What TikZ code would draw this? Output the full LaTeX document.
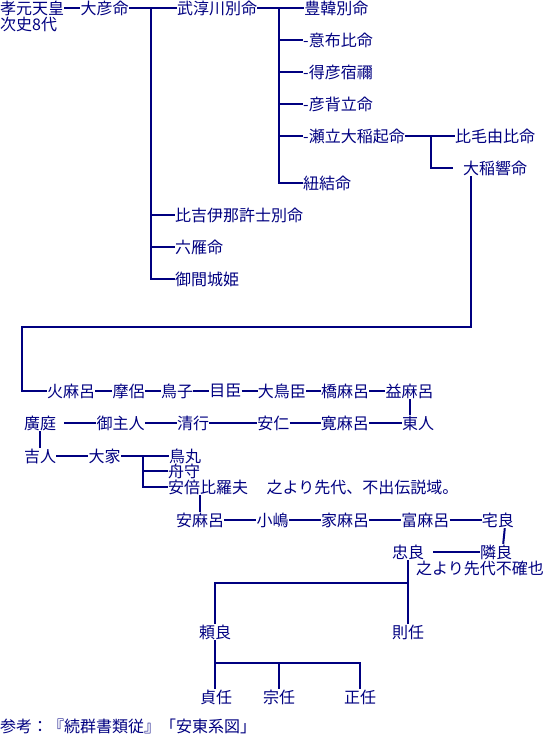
\documentclass[tikz,border=0pt]{standalone}
\usepackage{fontspec}
\newfontfamily\jpfont{Noto Sans CJK JP}
\usetikzlibrary{positioning}
\definecolor{kanji}{HTML}{000080}

\begin{document}
\begin{tikzpicture}[x=1pt, y=-1pt,
  person/.style={anchor=west, inner sep=0pt, minimum height=16pt,
    font=\jpfont\fontsize{16}{16}\selectfont, text=kanji},
  link/.style={draw=kanji, line width=2pt}]
  \useasboundingbox (0,0) rectangle (544,752);
  % upper branch
  \node[person] (kogen) at (0,8) {孝元天皇};
  \node[person] (jishi) at (0,24) {次史8代};
  \node[person, right=16pt of kogen] (ohiko) {大彦命};
  \node[person, right=48pt of ohiko] (takenu) {武淳川別命};
  \node[person, right=47pt of takenu] (toyoka) {豊韓別命};
  \node[person] (ofu) at (303,40) {-意布比命};
  \node[person] (etoku) at (303,72) {-得彦宿禰};
  \node[person] (hikose) at (303,104) {-彦背立命};
  \node[person] (seta) at (303,136) {-瀬立大稲起命};
  \node[person] (himo) at (303,183) {紐結命};
  \node[person] (hikeyu) at (455,136) {比毛由比命};
  \node[person] (oine) at (463,168) {大稲響命};
  \node[person] (hiki) at (175,215) {比吉伊那許士別命};
  \node[person] (mutsu) at (175,247) {六雁命};
  \node[person] (mima) at (175,279) {御間城姫};
  \coordinate (fork1) at (151,8);
  \coordinate (fork2) at (279,8);
  \coordinate (fork3) at (431,136);
  \coordinate (bend) at (22,327);
  \draw[link] (kogen) -- (ohiko);
  \draw[link] (ohiko) -- (takenu);
  \draw[link] (takenu) -- (toyoka);
  \draw[link] (fork1) |- (hiki.west) (fork1) |- (mutsu.west) (fork1) |- (mima.west);
  \foreach \kid in {ofu, etoku, hikose, seta, himo}
    \draw[link] (fork2) |- (\kid.west);
  \draw[link] (seta) -- (hikeyu);
  \draw[link] (fork3) |- ([xshift=-10pt]oine.west);
  % lower branch
  \node[person] (homaro) at (47,391) {火麻呂};
  \node[person, right=17pt of homaro] (maro) {摩侶};
  \node[person, right=16pt of maro] (torik) {鳥子};
  \node[person, right=16pt of torik] (meomi) {目臣};
  \node[person, right=16pt of meomi] (otori) {大鳥臣};
  \node[person, right=15pt of otori] (hashi) {橋麻呂};
  \node[person, right=16pt of hashi] (masu) {益麻呂};
  \node[person] (hironiwa) at (24,423) {廣庭};
  \node[person, right=40pt of hironiwa] (mimoto) {御主人};
  \node[person, right=32pt of mimoto] (kiyo) {清行};
  \node[person, right=48pt of kiyo] (yasuhito) {安仁};
  \node[person, right=31pt of yasuhito] (hiro) {寛麻呂};
  \node[person, right=33pt of hiro] (azuma) {東人};
  \node[person] (yoshito) at (24,456) {吉人};
  \node[person, right=32pt of yoshito] (oie) {大家};
  \node[person, right=48pt of oie] (shima) {鳥丸};
  \node[person] (funa) at (168,471) {舟守};
  \node[person] (abe) at (168,487) {安倍比羅夫};
  \node[person, right=18pt of abe] (fude) {之より先代、不出伝説域。};
  \node[person] (yasumaro) at (176,520) {安麻呂};
  \node[person, right=32pt of yasumaro] (kojima) {小嶋};
  \node[person, right=32pt of kojima] (iemaro) {家麻呂};
  \node[person, right=32pt of iemaro] (tomi) {富麻呂};
  \node[person, right=32pt of tomi] (yaka) {宅良};
  \node[person] (tada) at (392,552) {忠良};
  \node[person] (tonari) at (480,552) {隣良};
  \node[person] (kaku) at (416,568) {之より先代不確也};
  \node[person] (yori) at (199,632) {頼良};
  \node[person] (nori) at (392,632) {則任};
  \node[person] (sada) at (200,697) {貞任};
  \node[person] (mune) at (263,697) {宗任};
  \node[person] (masa) at (344,697) {正任};
  \node[person] (sanko) at (0,726) {参考：『続群書類従』「安東系図」};
  \coordinate (fork4) at (143,456);
  \coordinate (fork5) at (408,583);
  \coordinate (fork6) at (215,663);
  \draw[link] ([xshift=8pt]oine.south west) |- (bend) |- (homaro.west);
  \foreach \a/\b in {homaro/maro, maro/torik, torik/meomi, meomi/otori,
    otori/hashi, hashi/masu, mimoto/kiyo, kiyo/yasuhito, yasuhito/hiro,
    hiro/azuma, yoshito/oie, oie/shima, yasumaro/kojima, kojima/iemaro,
    iemaro/tomi, tomi/yaka}
    \draw[link] (\a) -- (\b);
  \draw[link] ([xshift=8pt]hironiwa.east) -- (mimoto);
  \draw[link] (masu.south) -- (masu.south |- azuma.north);
  \draw[link] (hironiwa.south) -- (yoshito.north);
  \draw[link] (fork4) |- (funa.west) (fork4) |- (abe.west);
  \draw[link] (yasumaro.north |- abe.south) -- (yasumaro.north);
  \draw[link] ([xshift=7pt]yaka.south) -- ([xshift=7pt]tonari.north);
  \draw[link] ([xshift=9pt]tada.east) -- (tonari);
  \draw[link] (tada.south) -- (nori.north);
  \draw[link] (fork5) -| (yori.north);
  \draw[link] (yori.south) -- (yori.south |- sada.north);
  \draw[link] (fork6) -| (mune.north) (fork6) -| (masa.north);
\end{tikzpicture}
\end{document}
